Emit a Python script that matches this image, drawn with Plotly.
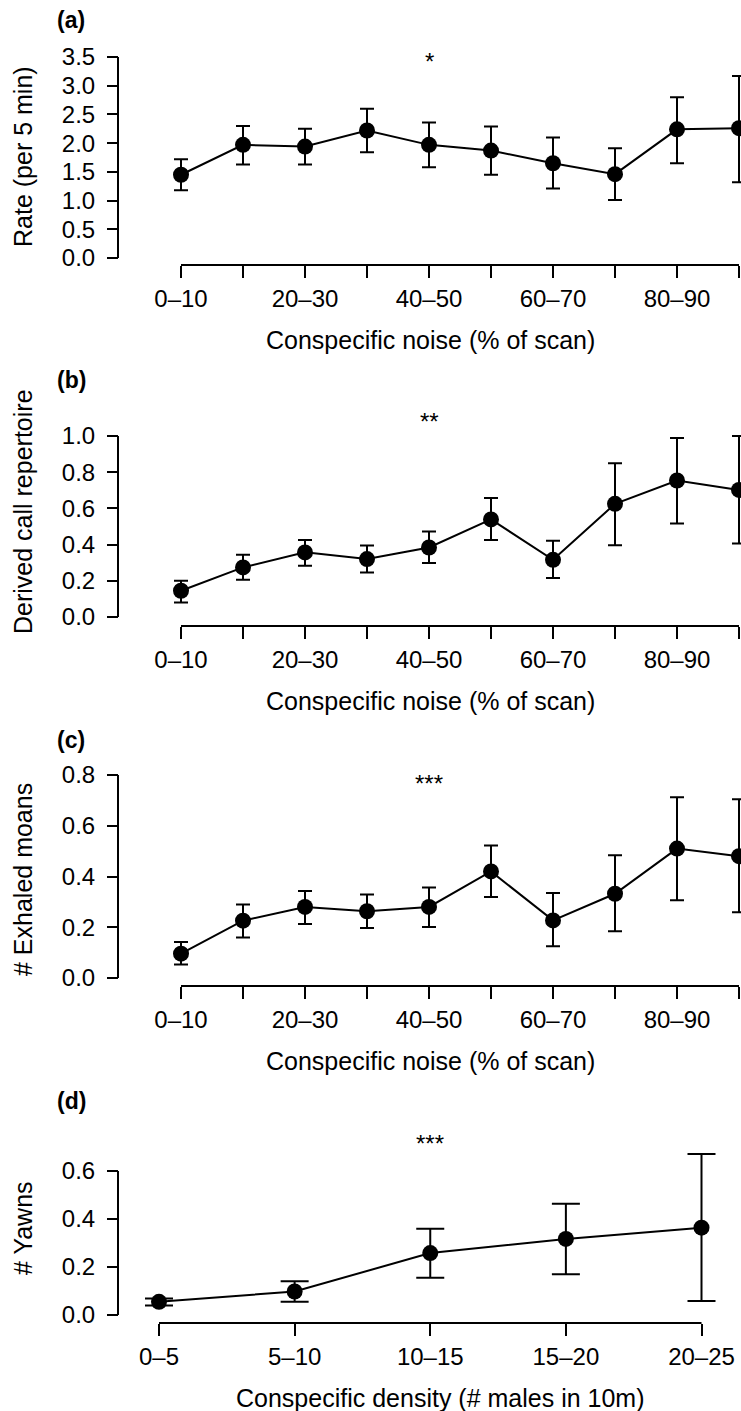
import plotly.graph_objects as go

W, H = 741, 1411

noise_cats = ["0–10", "10–20", "20–30", "30–40", "40–50",
              "50–60", "60–70", "70–80", "80–90", "90–100"]
noise_shown = ["0–10", "", "20–30", "", "40–50", "", "60–70", "", "80–90", ""]
density_cats = ["0–5", "5–10", "10–15", "15–20", "20–25"]

# (a) Rate (per 5 min)
rate_mean = [1.45, 1.97, 1.94, 2.22, 1.97, 1.87, 1.65, 1.46, 2.24, 2.26]
rate_hi = [1.72, 2.30, 2.25, 2.60, 2.36, 2.29, 2.10, 1.91, 2.80, 3.17]
rate_lo = [1.18, 1.63, 1.63, 1.84, 1.58, 1.45, 1.21, 1.01, 1.65, 1.32]

# (b) Derived call repertoire
rep_mean = [0.145, 0.274, 0.357, 0.320, 0.384, 0.539, 0.316, 0.625, 0.754, 0.702]
rep_hi = [0.200, 0.344, 0.426, 0.395, 0.472, 0.658, 0.421, 0.849, 0.989, 1.000]
rep_lo = [0.080, 0.206, 0.283, 0.246, 0.298, 0.425, 0.215, 0.397, 0.517, 0.406]

# (c) # Exhaled moans
moan_mean = [0.096, 0.226, 0.280, 0.263, 0.280, 0.420, 0.227, 0.332, 0.510, 0.480]
moan_hi = [0.142, 0.290, 0.343, 0.329, 0.357, 0.522, 0.335, 0.484, 0.712, 0.704]
moan_lo = [0.053, 0.160, 0.213, 0.197, 0.201, 0.319, 0.125, 0.184, 0.306, 0.259]

# (d) # Yawns
yawn_mean = [0.055, 0.098, 0.258, 0.317, 0.364]
yawn_hi = [0.069, 0.141, 0.359, 0.464, 0.671]
yawn_lo = [0.040, 0.055, 0.155, 0.170, 0.058]

FONT = "Liberation Sans, Arial, Helvetica, sans-serif"
FS = 24
FS_T = 25


def px_x(p):
    return p / W


def px_y(p):
    return 1 - p / H


panels = [
    dict(cats=noise_cats, shown=noise_shown, mean=rate_mean, hi=rate_hi, lo=rate_lo,
         ymax=3.5, dtick=0.5, ytop=57, ybot=258, xline=265, x0=181, x1=739,
         dom_l=140, dom_t=35,
         cap=7, ytitle="Rate (per 5 min)", ytitle_y=157,
         xtitle="Conspecific noise (% of scan)", xtitle_x=430, xtitle_y=340,
         label="(a)", label_y=20, star="*", star_cat="40–50", star_y=58),
    dict(cats=noise_cats, shown=noise_shown, mean=rep_mean, hi=rep_hi, lo=rep_lo,
         ymax=1.0, dtick=0.2, ytop=436, ybot=617, xline=626, x0=181, x1=739,
         dom_l=140, dom_t=415,
         cap=7, ytitle="Derived call repertoire", ytitle_y=512,
         xtitle="Conspecific noise (% of scan)", xtitle_x=430, xtitle_y=701,
         label="(b)", label_y=380, star="**", star_cat="40–50", star_y=419),
    dict(cats=noise_cats, shown=noise_shown, mean=moan_mean, hi=moan_hi, lo=moan_lo,
         ymax=0.8, dtick=0.2, ytop=775, ybot=978, xline=986, x0=181, x1=739,
         dom_l=140, dom_t=760,
         cap=7, ytitle="# Exhaled moans", ytitle_y=880,
         xtitle="Conspecific noise (% of scan)", xtitle_x=430, xtitle_y=1061,
         label="(c)", label_y=740, star="***", star_cat="40–50", star_y=780),
    dict(cats=density_cats, shown=density_cats, mean=yawn_mean, hi=yawn_hi, lo=yawn_lo,
         ymax=0.6, dtick=0.2, ytop=1171, ybot=1315, xline=1323, x0=159, x1=701.5,
         dom_l=130, dom_t=1145,
         cap=14, ytitle="# Yawns", ytitle_y=1228,
         xtitle="Conspecific density (# males in 10m)", xtitle_x=441, xtitle_y=1398,
         label="(d)", label_y=1101, star="***", star_cat="10–15", star_y=1140),
]

fig = go.Figure()
annotations = []
shapes = []
layout = {}

for i, p in enumerate(panels):
    n = "" if i == 0 else str(i + 1)
    xa, ya = "x" + n, "y" + n
    ncat = len(p["cats"])
    # pixel scales (layout only)
    sx = (p["x1"] - p["x0"]) / (ncat - 1)
    sy = (p["ybot"] - p["ytop"]) / p["ymax"]
    dom_r = W
    dom_b = p["xline"]
    xr = [(p["dom_l"] - p["x0"]) / sx, (dom_r - p["x0"]) / sx]
    yr = [(p["ybot"] - dom_b) / sy, (p["ybot"] - p["dom_t"]) / sy]
    nt = int(round(p["ymax"] / p["dtick"]))
    yticks = [round(k * p["dtick"], 3) for k in range(nt + 1)]

    up = [h - m for h, m in zip(p["hi"], p["mean"])]
    dn = [m - l for m, l in zip(p["mean"], p["lo"])]
    fig.add_trace(go.Scatter(
        x=p["cats"], y=p["mean"], xaxis=xa, yaxis=ya, mode="lines+markers",
        line=dict(color="black", width=2),
        marker=dict(color="black", size=16),
        error_y=dict(type="data", symmetric=False, array=up, arrayminus=dn,
                     color="black", thickness=2, width=p["cap"]),
        cliponaxis=False, showlegend=False, hoverinfo="skip"))
    layout["xaxis" + n] = dict(
        type="category", categoryorder="array", categoryarray=p["cats"],
        range=xr, domain=[px_x(p["dom_l"]), px_x(dom_r)],
        anchor="free", position=px_y(p["xline"]), automargin=False,
        showline=False,
        ticks="outside", ticklen=12, tickwidth=2, tickcolor="black",
        tickmode="array", tickvals=p["cats"], ticktext=p["shown"],
        showgrid=False, zeroline=False, fixedrange=True,
        tickfont=dict(family=FONT, size=FS, color="black"))
    layout["yaxis" + n] = dict(
        range=yr, domain=[px_y(dom_b), px_y(p["dom_t"])],
        anchor="free", position=px_x(118), automargin=False,
        showline=False,
        ticks="outside", ticklen=11, tickwidth=2, tickcolor="black",
        ticklabelstandoff=7,
        tickmode="array", tickvals=yticks, tickformat=".1f",
        showgrid=False, zeroline=False, fixedrange=True,
        tickfont=dict(family=FONT, size=FS, color="black"))
    # axis lines spanning first to last tick (R style)
    shapes.append(dict(type="line", xref=xa, yref="paper",
                       x0=p["cats"][0], x1=p["cats"][-1],
                       y0=px_y(p["xline"]), y1=px_y(p["xline"]),
                       line=dict(color="black", width=2)))
    shapes.append(dict(type="line", xref="paper", yref=ya,
                       x0=px_x(118), x1=px_x(118),
                       y0=yticks[0], y1=yticks[-1],
                       line=dict(color="black", width=2)))
    annotations.append(dict(
        text=p["ytitle"], textangle=-90, xref="paper", yref="paper",
        x=px_x(23), y=px_y(p["ytitle_y"]), xanchor="center", yanchor="middle",
        showarrow=False, font=dict(family=FONT, size=FS_T, color="black")))
    annotations.append(dict(
        text=p["xtitle"], xref="paper", yref="paper",
        x=px_x(p["xtitle_x"]), y=px_y(p["xtitle_y"]), xanchor="center", yanchor="middle",
        showarrow=False, font=dict(family=FONT, size=FS_T, color="black")))
    annotations.append(dict(
        text="<b>" + p["label"] + "</b>", xref="paper", yref="paper",
        x=px_x(55), y=px_y(p["label_y"]), xanchor="left", yanchor="middle",
        showarrow=False, font=dict(family=FONT, size=23, color="black")))
    annotations.append(dict(
        text=p["star"], xref=xa, yref="paper",
        x=p["star_cat"], y=px_y(p["star_y"] + 3), xanchor="center", yanchor="middle",
        showarrow=False, font=dict(family=FONT, size=FS, color="black")))

fig.update_layout(
    template="none",
    width=W, height=H, margin=dict(l=0, r=0, t=0, b=0, autoexpand=False),
    paper_bgcolor="white", plot_bgcolor="rgba(0,0,0,0)",
    annotations=annotations, shapes=shapes, **layout)

fig.write_html(
    "out.html",
    config={"displayModeBar": False, "staticPlot": True},
    post_script="document.body.style.margin='0';document.body.style.padding='0';"
                "document.documentElement.style.overflow='hidden';")
